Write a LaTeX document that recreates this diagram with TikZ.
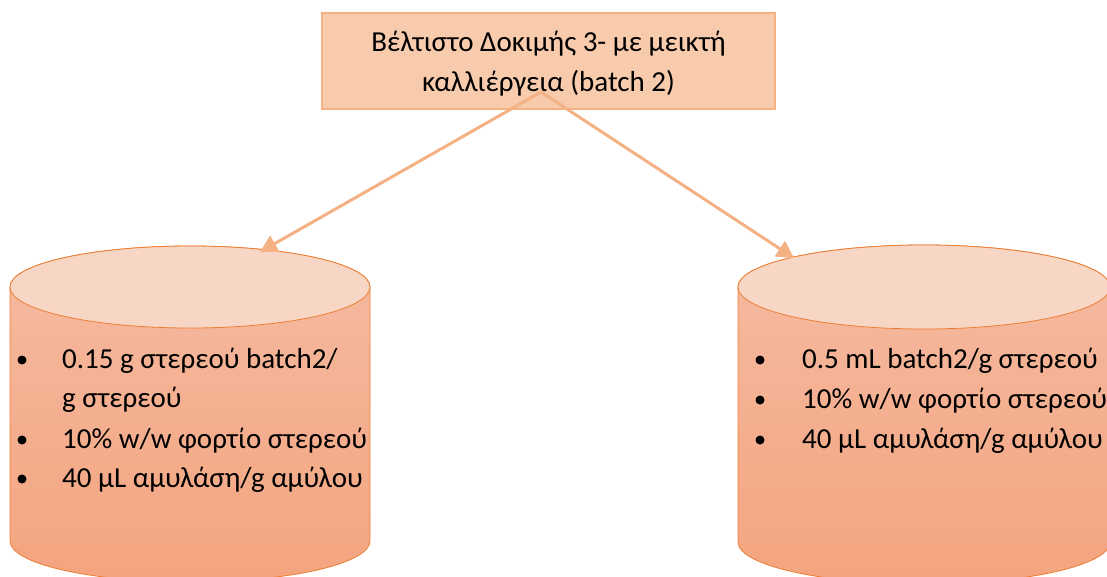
\documentclass[tikz,border=0pt]{standalone}
\usepackage{fontspec}
\setmainfont{Carlito}
\usetikzlibrary{arrows.meta}
\definecolor{boxfill}{HTML}{F8CBAD}
\definecolor{boxline}{HTML}{F4B183}
\definecolor{cyltop}{HTML}{F8D6C6}
\definecolor{cylA}{HTML}{F5BBA2}
\definecolor{cylB}{HTML}{F4A47F}
\definecolor{cylline}{HTML}{ED7D31}
\tikzset{
  topbox/.style={draw=boxline, fill=boxfill, line width=2pt, minimum width=453, minimum height=96, inner sep=0pt},
  txt/.style={anchor=base west, inner sep=0pt, font=\fontsize{29}{40}\selectfont},
  ctxt/.style={anchor=base, inner sep=0pt, font=\fontsize{29}{40}\selectfont},
  bul/.style={circle, fill=black, inner sep=0pt, minimum size=9pt},
  conn/.style={draw=boxline, line width=3pt, -{Triangle[length=17pt,width=18pt]}},
  cylbody/.style={draw=cylline, line width=0.8pt, top color=cylA, bottom color=cylB},
  cyltopst/.style={draw=cylline, line width=0.8pt, fill=cyltop},
}
\begin{document}
\begin{tikzpicture}[x=1pt,y=-1pt]
\useasboundingbox (0,0) rectangle (1107,576);
% top box
\node[topbox] (top) at (548.5,61) {};
\node[ctxt] (t1) at (548.5,51) {Βέλτιστο Δοκιμής 3- με μεικτή};
\node[ctxt] (t2) at (548.5,91) {καλλιέργεια (batch 2)};
% left cylinder
\path[cylbody] (10,287) -- (10,541) arc[start angle=180, end angle=0, x radius=180, y radius=41] -- (370,287) arc[start angle=0, end angle=-180, x radius=180, y radius=41] -- cycle;
\path[cyltopst] (190,287) ellipse[x radius=180, y radius=41];
% right cylinder
\path[cylbody] (738,287) -- (738,542) arc[start angle=180, end angle=0, x radius=186, y radius=42] -- (1110,287) arc[start angle=0, end angle=-180, x radius=186, y radius=42] -- cycle;
\path[cyltopst] (924,287) ellipse[x radius=186, y radius=42];
% left text
\node[bul] (lb1) at (22,360) {};
\node[txt] (l1) at (62,368) {0.15 g στερεού batch2/};
\node[txt] (l2) at (62,407) {g στερεού};
\node[bul] (lb3) at (22,440) {};
\node[txt] (l3) at (62,448) {10\% w/w φορτίο στερεού};
\node[bul] (lb4) at (22,479) {};
\node[txt] (l4) at (62,487) {40 μL αμυλάση/g αμύλου};
% right text
\node[bul] (rb1) at (760,360) {};
\node[txt] (r1) at (802,368) {0.5 mL batch2/g στερεού};
\node[bul] (rb2) at (760,400) {};
\node[txt] (r2) at (802,408) {10\% w/w φορτίο στερεού};
\node[bul] (rb3) at (760,440) {};
\node[txt] (r3) at (802,448) {40 μL αμυλάση/g αμύλου};
% connectors
\coordinate (src) at (541,92);
\coordinate (lt) at (260,252);
\coordinate (rt) at (794,258);
\draw[conn] (src) -- (lt);
\draw[conn] (src) -- (rt);
\end{tikzpicture}
\end{document}
